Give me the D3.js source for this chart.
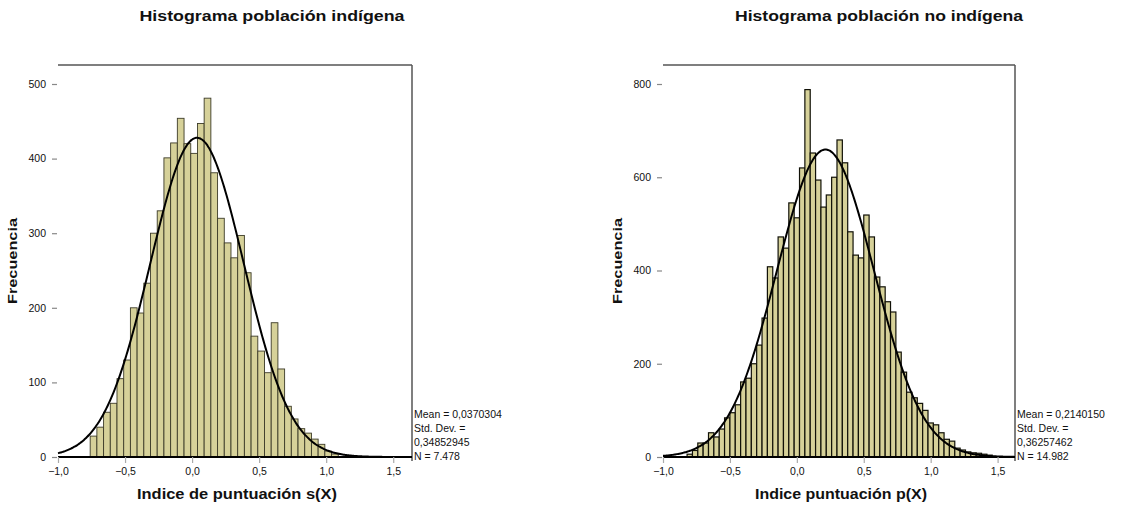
<!DOCTYPE html>
<html>
<head>
<meta charset="utf-8">
<script src="https://cdn.jsdelivr.net/npm/d3@7"></script>
<style>
  html, body { margin: 0; padding: 0; background: #fff; }
  svg { display: block; font-family: "Liberation Sans", Arial, sans-serif; }
</style>
</head>
<body>
<svg id="chart" width="1129" height="506"></svg>
<script>
// Histogram data: counts per bin, bins start at binStart and are binWidth wide
const indigenaBinStart = -0.76;
const indigenaBinWidth = 0.05;
const indigenaCounts = [28, 40, 60, 72, 105, 130, 200, 193, 233, 300, 330, 401, 421, 454, 420, 407, 447, 481, 381, 320, 287, 267, 297, 247, 162, 142, 113, 180, 118, 68, 51, 38, 32, 24, 17, 8, 4];
const indigenaMean = 0.0370304;
const indigenaSD = 0.34852945;

const noIndigenaBinStart = -0.82;
const noIndigenaBinWidth = 0.04;
const noIndigenaCounts = [6, 14, 30, 30, 52, 43, 60, 84, 95, 112, 161, 169, 200, 240, 298, 408, 384, 472, 448, 545, 513, 620, 788, 652, 594, 536, 562, 600, 680, 631, 483, 433, 427, 519, 472, 386, 365, 333, 311, 225, 182, 139, 127, 115, 100, 73, 69, 52, 38, 34, 19, 15, 11, 9, 8, 6, 4];
const noIndigenaMean = 0.2140150;
const noIndigenaSD = 0.36257462;

const xTicks = [-1.0, -0.5, 0.0, 0.5, 1.0, 1.5];
const indigenaYTicks = [0, 100, 200, 300, 400, 500];
const noIndigenaYTicks = [0, 200, 400, 600, 800];

const titles = ["Histograma población indígena", "Histograma población no indígena"];
const xTitles = ["Indice de puntuación s(X)", "Indice puntuación p(X)"];
const yTitle = "Frecuencia";

const svg = d3.select("#chart");
const decimal = d3.formatLocale({ decimal: ",", thousands: ".", grouping: [3], currency: ["", ""] });
const fmtTick = decimal.format(".1f");
const fmtN = decimal.format(",d");

const panels = [
  { counts: indigenaCounts, start: indigenaBinStart, width: indigenaBinWidth,
    mean: indigenaMean, sd: indigenaSD, yTicks: indigenaYTicks, yMax: 500,
    x0: 58, x1: 412, xMax: 1.64, title: titles[0], titleX: 272, titleW: 265,
    xTitle: xTitles[0], xTitleX: 237, xTitleW: 200, yTitleX: 17,
    stroke: "#3c3b28", strokeW: 0.9, fmtMean: "0,0370304", fmtSD: "0,34852945" },
  { counts: noIndigenaCounts, start: noIndigenaBinStart, width: noIndigenaBinWidth,
    mean: noIndigenaMean, sd: noIndigenaSD, yTicks: noIndigenaYTicks, yMax: 800,
    x0: 663, x1: 1015, xMax: 1.63, title: titles[1], titleX: 879, titleW: 288,
    xTitle: xTitles[1], xTitleX: 841, xTitleW: 172, yTitleX: 622,
    stroke: "#111108", strokeW: 1.2, fmtMean: "0,2140150", fmtSD: "0,36257462" }
];

const yTop = 84, yBase = 457, frameTop = 65;

panels.forEach(p => {
  const g = svg.append("g");
  const x = d3.scaleLinear().domain([-1.0, p.xMax]).range([p.x0, p.x1]);
  const y = d3.scaleLinear().domain([0, p.yMax]).range([yBase, yTop]);

  const bins = p.counts.map((c, i) => ({ lo: p.start + i * p.width, hi: p.start + (i + 1) * p.width, c }));
  const n = d3.sum(p.counts);

  // bars
  g.append("g").selectAll("rect").data(bins).join("rect")
    .attr("x", d => x(d.lo))
    .attr("width", d => x(d.hi) - x(d.lo))
    .attr("y", d => y(d.c))
    .attr("height", d => y(0) - y(d.c))
    .attr("fill", "#d6d199")
    .attr("stroke", p.stroke)
    .attr("stroke-width", p.strokeW);

  // normal curve scaled to the histogram
  const scale = n * p.width / (p.sd * Math.sqrt(2 * Math.PI));
  const pts = d3.range(0, 301).map(i => {
    const v = -1.0 + (p.xMax + 1.0) * i / 300;
    const z = (v - p.mean) / p.sd;
    return [v, scale * Math.exp(-0.5 * z * z)];
  });
  g.append("path")
    .datum(pts)
    .attr("fill", "none")
    .attr("stroke", "#000")
    .attr("stroke-width", 2)
    .attr("d", d3.line().x(d => x(d[0])).y(d => y(d[1])).curve(d3.curveBasis));

  // frame: top and right edge, baseline
  g.append("line").attr("x1", p.x0).attr("x2", p.x1).attr("y1", frameTop).attr("y2", frameTop)
    .attr("stroke", "#555").attr("stroke-width", 1.5);
  g.append("line").attr("x1", p.x1).attr("x2", p.x1).attr("y1", frameTop).attr("y2", yBase + 4)
    .attr("stroke", "#555").attr("stroke-width", 1.5);
  g.append("line").attr("x1", p.x0).attr("x2", p.x1).attr("y1", yBase).attr("y2", yBase)
    .attr("stroke", "#000").attr("stroke-width", 2);

  // y axis (ticks and labels, no domain line)
  const yAxis = d3.axisLeft(y).tickValues(p.yTicks).tickSize(5).tickPadding(6).tickFormat(d3.format("d"));
  const ya = g.append("g").attr("transform", `translate(${p.x0 - 1},0)`).call(yAxis);
  ya.select(".domain").remove();
  ya.selectAll(".tick line").attr("stroke", "#888").attr("stroke-width", 1.2);
  ya.selectAll(".tick text").attr("font-size", 10.5).attr("fill", "#111")
    .attr("font-family", "Liberation Sans, Arial, sans-serif");

  // x axis
  const xAxis = d3.axisBottom(x).tickValues(xTicks).tickSize(6).tickPadding(5).tickFormat(fmtTick);
  const xa = g.append("g").attr("transform", `translate(0,${yBase})`).call(xAxis);
  xa.select(".domain").remove();
  xa.selectAll(".tick line").attr("stroke", "#aaa").attr("stroke-width", 1.2);
  xa.selectAll(".tick text").attr("font-size", 10.5).attr("fill", "#111")
    .attr("font-family", "Liberation Sans, Arial, sans-serif");

  // titles
  g.append("text").attr("x", p.titleX).attr("y", 21).attr("text-anchor", "middle")
    .attr("font-size", 15).attr("font-weight", "bold").attr("fill", "#111")
    .attr("textLength", p.titleW).attr("lengthAdjust", "spacingAndGlyphs").text(p.title);
  g.append("text").attr("x", p.xTitleX).attr("y", 499).attr("text-anchor", "middle")
    .attr("font-size", 14).attr("font-weight", "bold").attr("fill", "#111")
    .attr("textLength", p.xTitleW).attr("lengthAdjust", "spacingAndGlyphs").text(p.xTitle);
  g.append("text").attr("transform", `translate(${p.yTitleX},261) rotate(-90)`).attr("text-anchor", "middle")
    .attr("font-size", 13).attr("font-weight", "bold").attr("fill", "#111")
    .attr("textLength", 86).attr("lengthAdjust", "spacingAndGlyphs").text(yTitle);

  // summary statistics
  const stats = [`Mean = ${p.fmtMean}`, "Std. Dev. =", p.fmtSD, `N = ${fmtN(n)}`];
  g.append("g").selectAll("text").data(stats).join("text")
    .attr("x", p.x1 + 2)
    .attr("y", (d, i) => 418 + i * 14)
    .attr("font-size", 10.5)
    .attr("fill", "#111")
    .text(d => d);
});
</script>
</body>
</html>
